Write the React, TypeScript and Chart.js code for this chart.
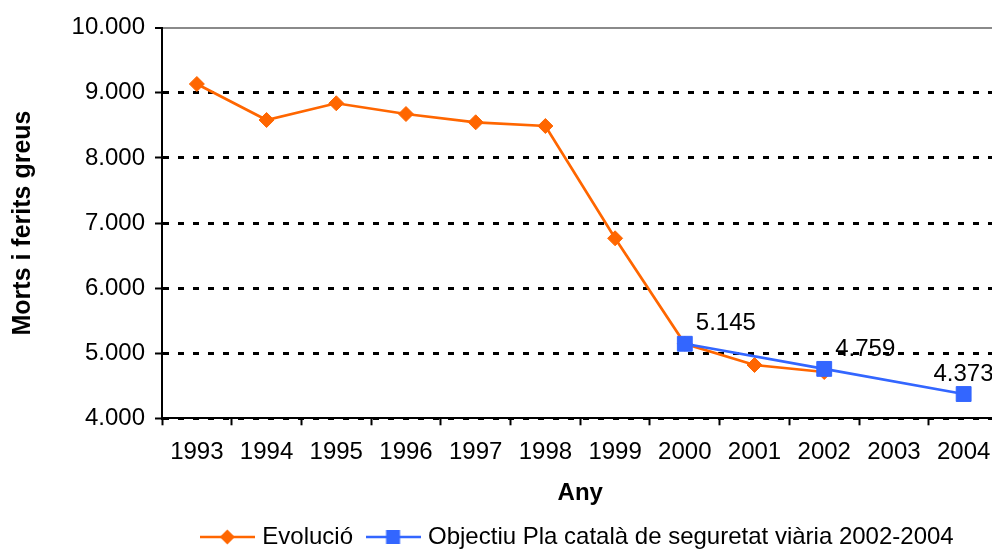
import React, { useEffect, useRef } from 'react';
import { Chart, registerables } from 'chart.js';

Chart.register(...registerables);

// ---- data ----
const years = ['1993', '1994', '1995', '1996', '1997', '1998', '1999', '2000', '2001', '2002', '2003', '2004'];
const evolucio: (number | null)[] = [9135, 8582, 8839, 8674, 8547, 8490, 6765, 5145, 4819, 4711, null, null];
const objectiu: (number | null)[] = [null, null, null, null, null, null, null, 5145, null, 4759, null, 4373];
const seriesNames = ['Evolució', 'Objectiu Pla català de seguretat viària 2002-2004'];
const yMin = 4000;
const yMax = 10000;
const yStep = 1000;
const xTitle = 'Any';
const yTitle = 'Morts i ferits greus';

// ---- styles ----
const ORANGE = '#FF6600';
const BLUE = '#3366FF';
const FONT = "'Liberation Sans', Arial, Helvetica, sans-serif";
const FS = 24;
const LEGEND_SHIFT = 78;

const fmt = (v: number) => String(Math.round(v)).replace(/\B(?=(\d{3})+(?!\d))/g, '.');

function makeMarker(color: string, shape: 'diamond' | 'square'): HTMLCanvasElement {
  const c = document.createElement('canvas');
  c.width = 55;
  c.height = 18;
  const g = c.getContext('2d')!;
  g.strokeStyle = color;
  g.lineWidth = 2.6;
  g.beginPath();
  g.moveTo(0, 9);
  g.lineTo(55, 9);
  g.stroke();
  g.fillStyle = color;
  g.beginPath();
  if (shape === 'diamond') {
    g.moveTo(27.5, 1.5);
    g.lineTo(35, 9);
    g.lineTo(27.5, 16.5);
    g.lineTo(20, 9);
    g.closePath();
  } else {
    g.rect(20.5, 2, 14, 14);
  }
  g.fill();
  return c;
}

const valueLabels = {
  id: 'valueLabels',
  afterDatasetsDraw(chart: any) {
    const ctx = chart.ctx;
    const meta = chart.getDatasetMeta(1);
    const data = chart.data.datasets[1].data;
    ctx.save();
    ctx.font = `${FS}px ${FONT}`;
    ctx.fillStyle = '#000';
    ctx.textAlign = 'left';
    ctx.textBaseline = 'middle';
    meta.data.forEach((el: any, i: number) => {
      const v = data[i];
      if (v === null || v === undefined) return;
      const t = fmt(v);
      const w = ctx.measureText(t).width;
      let x = el.x + 11;
      if (x + w > chart.chartArea.right - 5) x = chart.chartArea.right - 5 - w;
      ctx.fillText(t, x, el.y - 20);
    });
    ctx.restore();
  },
};

const legendShift = {
  id: 'legendShift',
  afterLayout(chart: any) {
    const lg = chart.legend;
    if (lg) {
      lg.left += LEGEND_SHIFT;
      lg.right += LEGEND_SHIFT;
    }
  },
};

export default function App() {
  const ref = useRef<HTMLCanvasElement | null>(null);

  useEffect(() => {
    if (!ref.current) return;
    const markers = [makeMarker(ORANGE, 'diamond'), makeMarker(BLUE, 'square')];
    const chart = new Chart(ref.current, {
      type: 'line',
      data: {
        labels: years,
        datasets: [
          {
            label: seriesNames[0],
            data: evolucio,
            borderColor: ORANGE,
            backgroundColor: ORANGE,
            borderWidth: 2.7,
            pointStyle: 'rectRot',
            pointRadius: 7.5,
            pointBorderWidth: 1,
            pointBackgroundColor: ORANGE,
            pointBorderColor: ORANGE,
            tension: 0,
            order: 1,
          },
          {
            label: seriesNames[1],
            data: objectiu,
            borderColor: BLUE,
            backgroundColor: BLUE,
            borderWidth: 2.7,
            pointStyle: 'rect',
            pointRadius: 10.5,
            pointBorderWidth: 1,
            pointBackgroundColor: BLUE,
            pointBorderColor: BLUE,
            spanGaps: true,
            tension: 0,
            order: 0,
          },
        ],
      },
      options: {
        responsive: false,
        animation: false,
        devicePixelRatio: 1,
        layout: { padding: { left: 0, right: 8, top: 27.7, bottom: 1 } },
        scales: {
          x: {
            offset: true,
            grid: { offset: true, drawOnChartArea: false, tickLength: 7, tickWidth: 2, tickColor: '#000' },
            border: { display: true, color: '#000', width: 2 },
            ticks: { color: '#000', font: { family: FONT, size: FS }, padding: 13, maxRotation: 0, autoSkip: false },
            title: {
              display: true,
              text: xTitle,
              color: '#000',
              font: { family: FONT, size: FS, weight: 'bold' },
              padding: { top: 0, bottom: 0 },
            },
            afterFit: (s: any) => {
              s.height = 89.7;
            },
          },
          y: {
            min: yMin,
            max: yMax,
            ticks: {
              stepSize: yStep,
              color: '#000',
              font: { family: FONT, size: FS },
              padding: 10,
              callback: (v: any) => fmt(Number(v)),
            },
            grid: {
              color: (c: any) => (c.tick && c.tick.value === yMax ? '#8a8a8a' : '#000'),
              lineWidth: (c: any) => (c.tick && c.tick.value === yMax ? 2 : 3),
              tickLength: 7,
              tickWidth: 2,
              tickColor: '#000',
              tickBorderDash: [],
            },
            border: {
              display: true,
              color: '#000',
              width: 2,
              dash: (c: any) => (c.tick && c.tick.value === yMax ? [] : [6, 9]),
            },
            title: {
              display: true,
              text: yTitle,
              color: '#000',
              font: { family: FONT, size: 25, weight: 'bold' },
              padding: { top: 8, bottom: 0 },
            },
            afterFit: (s: any) => {
              s.width = 162;
            },
          },
        },
        plugins: {
          legend: {
            position: 'bottom',
            labels: {
              usePointStyle: true,
              pointStyleWidth: 46,
              padding: 17,
              color: '#000',
              font: { family: FONT, size: FS },
              sort: (a: any, b: any) => a.datasetIndex - b.datasetIndex,
              generateLabels: (ch: any) => {
                const items = (Chart as any).defaults.plugins.legend.labels.generateLabels(ch);
                items.forEach((it: any) => {
                  it.pointStyle = markers[it.datasetIndex];
                });
                return items;
              },
            },
          },
          tooltip: { enabled: false },
        },
      } as any,
      plugins: [valueLabels, legendShift],
    });
    return () => chart.destroy();
  }, []);

  return (
    <div style={{ position: 'fixed', left: 0, top: 0, width: 992, height: 553, overflow: 'hidden', background: '#fff' }}>
      <canvas ref={ref} width={1010} height={560} style={{ display: 'block' }} />
    </div>
  );
}
